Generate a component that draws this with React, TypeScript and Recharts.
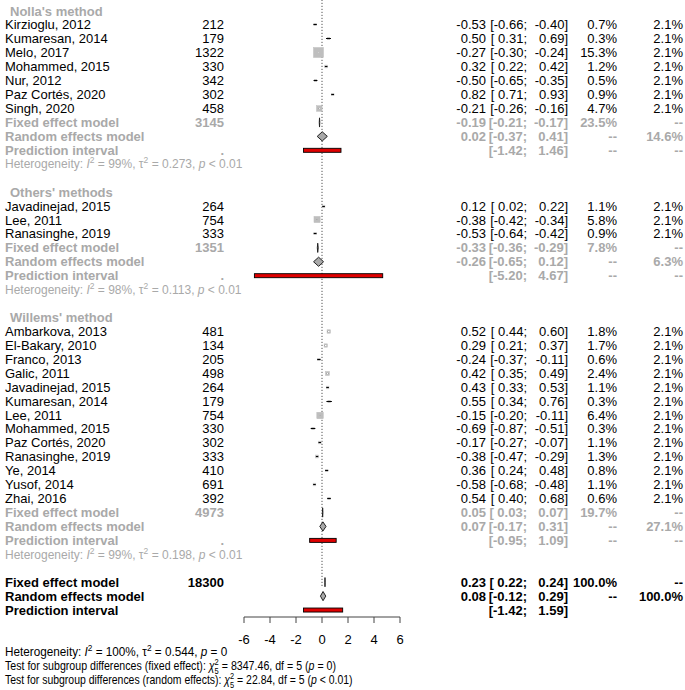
import React from 'react';
import { ComposedChart, Scatter, XAxis, YAxis, ReferenceLine } from 'recharts';

const FONT = '"Liberation Sans", Arial, Helvetica, sans-serif';
const GRAY = '#a9a9a9';
const SQUARE = '#bebebe';

// ---------- Subgroup titles ----------
const groupTitles = ["Nolla's method", "Others' methods", "Willems' method"];

// ---------- Nolla's method ----------
const nollaStudies = ['Kirzioglu, 2012', 'Kumaresan, 2014', 'Melo, 2017', 'Mohammed, 2015', 'Nur, 2012', 'Paz Cortés, 2020', 'Singh, 2020'];
const nollaN = [212, 179, 1322, 330, 342, 302, 458];
const nollaTE = [-0.53, 0.5, -0.27, 0.32, -0.5, 0.82, -0.21];
const nollaLower = [-0.66, 0.31, -0.3, 0.22, -0.65, 0.71, -0.26];
const nollaUpper = [-0.4, 0.69, -0.24, 0.42, -0.35, 0.93, -0.16];
const nollaWFixed = [0.7, 0.3, 15.3, 1.2, 0.5, 0.9, 4.7];
const nollaWRandom = [2.1, 2.1, 2.1, 2.1, 2.1, 2.1, 2.1];

// ---------- Others' methods ----------
const othersStudies = ['Javadinejad, 2015', 'Lee, 2011', 'Ranasinghe, 2019'];
const othersN = [264, 754, 333];
const othersTE = [0.12, -0.38, -0.53];
const othersLower = [0.02, -0.42, -0.64];
const othersUpper = [0.22, -0.34, -0.42];
const othersWFixed = [1.1, 5.8, 0.9];
const othersWRandom = [2.1, 2.1, 2.1];

// ---------- Willems' method ----------
const willemsStudies = ['Ambarkova, 2013', 'El-Bakary, 2010', 'Franco, 2013', 'Galic, 2011', 'Javadinejad, 2015', 'Kumaresan, 2014', 'Lee, 2011', 'Mohammed, 2015', 'Paz Cortés, 2020', 'Ranasinghe, 2019', 'Ye, 2014', 'Yusof, 2014', 'Zhai, 2016'];
const willemsN = [481, 134, 205, 498, 264, 179, 754, 330, 302, 333, 410, 691, 392];
const willemsTE = [0.52, 0.29, -0.24, 0.42, 0.43, 0.55, -0.15, -0.69, -0.17, -0.38, 0.36, -0.58, 0.54];
const willemsLower = [0.44, 0.21, -0.37, 0.35, 0.33, 0.34, -0.2, -0.87, -0.27, -0.47, 0.24, -0.68, 0.4];
const willemsUpper = [0.6, 0.37, -0.11, 0.49, 0.53, 0.76, -0.11, -0.51, -0.07, -0.29, 0.48, -0.48, 0.68];
const willemsWFixed = [1.8, 1.7, 0.6, 2.4, 1.1, 0.3, 6.4, 0.3, 1.1, 1.3, 0.8, 1.1, 0.6];
const willemsWRandom = [2.1, 2.1, 2.1, 2.1, 2.1, 2.1, 2.1, 2.1, 2.1, 2.1, 2.1, 2.1, 2.1];

// ---------- Subgroup summaries ----------
const subFixedN = [3145, 1351, 4973];
const subFixedTE = [-0.19, -0.33, 0.05];
const subFixedLower = [-0.21, -0.36, 0.03];
const subFixedUpper = [-0.17, -0.29, 0.07];
const subFixedW = [23.5, 7.8, 19.7];
const subRandomTE = [0.02, -0.26, 0.07];
const subRandomLower = [-0.37, -0.65, -0.17];
const subRandomUpper = [0.41, 0.12, 0.31];
const subRandomW = [14.6, 6.3, 27.1];
const subPredLower = [-1.42, -5.2, -0.95];
const subPredUpper = [1.46, 4.67, 1.09];
const subI2 = ['99%', '98%', '99%'];
const subTau2 = ['0.273', '0.113', '0.198'];
const subP = ['< 0.01', '< 0.01', '< 0.01'];

// ---------- Overall ----------
const overallFixedN = 18300;
const overallFixedEst = [0.23, 0.22, 0.24];
const overallRandomEst = [0.08, -0.12, 0.29];
const overallPred = [-1.42, 1.59];
const overallHet = ['100%', '0.544', '= 0'];
const testFixed = ['8347.46', '5', '= 0'];
const testRandom = ['22.84', '5', '< 0.01'];

const xTicks = [-6, -4, -2, 0, 2, 4, 6];

// ---------- build rows ----------
type Row = {
  x: number; y: number; kind: string; label?: string; n?: string;
  te?: number; lo?: number; hi?: number; wf?: number | null; wr?: number | null;
  color: string; bold: boolean; i2?: string; tau2?: string; p?: string;
};

const groups = [
  { s: nollaStudies, n: nollaN, te: nollaTE, lo: nollaLower, hi: nollaUpper, wf: nollaWFixed, wr: nollaWRandom },
  { s: othersStudies, n: othersN, te: othersTE, lo: othersLower, hi: othersUpper, wf: othersWFixed, wr: othersWRandom },
  { s: willemsStudies, n: willemsN, te: willemsTE, lo: willemsLower, hi: willemsUpper, wf: willemsWFixed, wr: willemsWRandom },
];

const rows: Row[] = [];
let idx = 0;
groups.forEach((g, gi) => {
  rows.push({ x: 0, y: idx++, kind: 'title', label: groupTitles[gi], color: GRAY, bold: true });
  g.s.forEach((name, k) => {
    rows.push({ x: 0, y: idx++, kind: 'study', label: name, n: String(g.n[k]), te: g.te[k], lo: g.lo[k], hi: g.hi[k], wf: g.wf[k], wr: g.wr[k], color: '#000', bold: false });
  });
  rows.push({ x: 0, y: idx++, kind: 'fixed', label: 'Fixed effect model', n: String(subFixedN[gi]), te: subFixedTE[gi], lo: subFixedLower[gi], hi: subFixedUpper[gi], wf: subFixedW[gi], wr: null, color: GRAY, bold: true });
  rows.push({ x: 0, y: idx++, kind: 'random', label: 'Random effects model', te: subRandomTE[gi], lo: subRandomLower[gi], hi: subRandomUpper[gi], wf: null, wr: subRandomW[gi], color: GRAY, bold: true });
  rows.push({ x: 0, y: idx++, kind: 'pred', label: 'Prediction interval', n: '.', lo: subPredLower[gi], hi: subPredUpper[gi], wf: null, wr: null, color: GRAY, bold: true });
  rows.push({ x: 0, y: idx++, kind: 'het', i2: subI2[gi], tau2: subTau2[gi], p: subP[gi], color: GRAY, bold: false });
  idx++;
});
rows.push({ x: 0, y: idx++, kind: 'fixed', label: 'Fixed effect model', n: String(overallFixedN), te: overallFixedEst[0], lo: overallFixedEst[1], hi: overallFixedEst[2], wf: 100, wr: null, color: '#000', bold: true });
rows.push({ x: 0, y: idx++, kind: 'random', label: 'Random effects model', te: overallRandomEst[0], lo: overallRandomEst[1], hi: overallRandomEst[2], wf: null, wr: 100, color: '#000', bold: true });
rows.push({ x: 0, y: idx++, kind: 'predOverall', label: 'Prediction interval', lo: overallPred[0], hi: overallPred[1], color: '#000', bold: true });
const lastRow = idx - 1;

const fmt = (v: number) => v.toFixed(2);
const fmtW = (v: number | null | undefined) => (v === null || v === undefined ? '--' : v.toFixed(1) + '%');

// ---------- text renderer ----------
const COLS = { label: 5, title: 10, n: 224, te: 486, ciL: 527, ciR: 568, wf: 617, wr: 683 };

const HetText = ({ x, y, color, i2, tau2, p }: any) => (
  <text x={x} y={y} dy="0.35em" fontFamily={FONT} fill={color} fontSize={12} style={{ whiteSpace: 'pre' }}>
    {'Heterogeneity: '}
    <tspan fontStyle="italic">I</tspan>
    <tspan dy={-5} fontSize={8.5}>2</tspan>
    <tspan dy={5}>{' = ' + i2 + ', \u03c4'}</tspan>
    <tspan dy={-5} fontSize={8.5}>2</tspan>
    <tspan dy={5}>{' = ' + tau2 + ', '}</tspan>
    <tspan fontStyle="italic">p</tspan>
    <tspan>{' ' + p}</tspan>
  </text>
);

const TestText = ({ label, chi, df, p }: any) => (
  <text x={0} y={0} dy="0.35em" fontFamily={FONT} fill="#000" fontSize={12} style={{ whiteSpace: 'pre' }}>
    {label}
    <tspan fontStyle="italic">{'\u03c7'}</tspan>
    <tspan dy={-5} fontSize={8.5}>2</tspan>
    <tspan dx={-4.7} dy={8.5} fontSize={8.5}>{df}</tspan>
    <tspan dy={-3.5}>{' = ' + chi + ', df = ' + df + ' ('}</tspan>
    <tspan fontStyle="italic">p</tspan>
    <tspan>{' ' + p + ')'}</tspan>
  </text>
);

const RowText = (props: any) => {
  const { cy, payload } = props;
  const r: Row = payload;
  if (cy === undefined || r === undefined) return <g />;
  if (r.kind === 'het') {
    return <HetText x={COLS.label} y={cy} color={r.color} i2={r.i2} tau2={r.tau2} p={r.p} />;
  }
  const t = { fontFamily: FONT, fill: r.color, dy: '0.35em', fontSize: 13, fontWeight: r.bold ? 'bold' : 'normal' } as any;
  const showW = r.kind !== 'predOverall' && r.kind !== 'title';
  return (
    <g>
      {r.label && <text x={r.kind === 'title' ? COLS.title : COLS.label} y={cy} {...t}>{r.label}</text>}
      {r.n !== undefined && <text x={COLS.n} y={cy} textAnchor="end" {...t}>{r.n}</text>}
      {r.te !== undefined && <text x={COLS.te} y={cy} textAnchor="end" {...t}>{fmt(r.te)}</text>}
      {r.lo !== undefined && (
        <text x={COLS.ciL} y={cy} textAnchor="end" {...t} style={{ whiteSpace: 'pre' }}>{'[' + (r.lo >= 0 ? ' ' : '') + fmt(r.lo as number) + ';'}</text>
      )}
      {r.hi !== undefined && <text x={COLS.ciR} y={cy} textAnchor="end" {...t}>{fmt(r.hi as number) + ']'}</text>}
      {showW && <text x={COLS.wf} y={cy} textAnchor="end" {...t}>{fmtW(r.wf)}</text>}
      {showW && <text x={COLS.wr} y={cy} textAnchor="end" {...t}>{fmtW(r.wr)}</text>}
    </g>
  );
};

// ---------- mark shapes (drawn on ReferenceLine segments lower..upper) ----------
const snap = (v: number) => Math.round(v - 0.5) + 0.5;

const StudyMark = (te: number, lo: number, hi: number, w: number) => (p: any) => {
  const { x1, x2 } = p;
  if (x1 === undefined) return <g />;
  const y = snap(p.y1);
  const cx = hi === lo ? x1 : x1 + ((te - lo) / (hi - lo)) * (x2 - x1);
  const s = Math.max(2.5, 10 * Math.sqrt(w / 15.3));
  const inL = Math.max(x1, cx - s / 2);
  const inR = Math.min(x2, cx + s / 2);
  return (
    <g>
      <rect x={cx - s / 2} y={y - s / 2} width={s} height={s} fill={SQUARE} stroke={SQUARE} strokeWidth={0.5} />
      <line x1={x1} x2={x2} y1={y} y2={y} stroke="#000" strokeWidth={1} />
      {inR > inL && s > 3 && <line x1={inL} x2={inR} y1={y} y2={y} stroke="#fff" strokeWidth={1} />}
    </g>
  );
};

const DiamondMark = (te: number, lo: number, hi: number) => (p: any) => {
  const { x1, x2 } = p;
  if (x1 === undefined) return <g />;
  const y = p.y1;
  const cx = x1 + ((te - lo) / (hi - lo)) * (x2 - x1);
  const h = 4.6;
  return (
    <polygon
      points={`${x1},${y} ${cx},${y - h} ${x2},${y} ${cx},${y + h}`}
      fill="#a9a9a9"
      stroke="#222"
      strokeWidth={1}
    />
  );
};

const PredMark = (p: any) => {
  const { x1, x2, y1 } = p;
  if (x1 === undefined) return <g />;
  return <rect x={x1} y={y1 - 2} width={x2 - x1} height={4} fill="#e00000" stroke="#000" strokeWidth={0.9} />;
};

export default function App() {
  const marks: React.ReactNode[] = [];
  rows.forEach((r, k) => {
    if (r.lo === undefined || r.hi === undefined) return;
    const seg = [{ x: r.lo, y: r.y }, { x: r.hi, y: r.y }];
    let shape: any;
    if (r.kind === 'study') shape = StudyMark(r.te as number, r.lo, r.hi, r.wf as number);
    else if (r.kind === 'fixed' || r.kind === 'random') shape = DiamondMark(r.te as number, r.lo, r.hi);
    else shape = PredMark;
    marks.push(<ReferenceLine key={'m' + k} segment={seg as any} ifOverflow="visible" shape={shape} />);
  });

  return (
    <div style={{ position: 'absolute', left: 0, top: 0, width: 685, height: 690, background: '#fff' }}>
      <ComposedChart width={685} height={690} margin={{ top: 11, right: 285, bottom: 43, left: 244 }}>
        <XAxis
          type="number"
          dataKey="x"
          domain={[-6, 6]}
          ticks={xTicks}
          interval={0}
          axisLine={{ stroke: '#444', strokeWidth: 1 }}
          tickLine={{ stroke: '#444', strokeWidth: 1 }}
          tickSize={6}
          tickMargin={12}
          height={30}
          tick={{ fontSize: 13, fill: '#000', fontFamily: FONT }}
        />
        <YAxis type="number" dataKey="y" domain={[0, 43.5]} reversed hide />
        <ReferenceLine
          segment={[{ x: 0, y: -0.8 }, { x: 0, y: lastRow - 1.6 }] as any}
          ifOverflow="visible"
          stroke="#333"
          strokeDasharray="1 2"
        />
        {marks}
        <Scatter data={rows} isAnimationActive={false} shape={RowText} />
      </ComposedChart>
      <svg width={685} height={690} style={{ position: 'absolute', left: 0, top: 0, pointerEvents: 'none' }}>
        <g transform="translate(5,652) scale(0.978,1)">
          <HetText x={0} y={0} color="#000" i2={overallHet[0]} tau2={overallHet[1]} p={overallHet[2]} />
        </g>
        <g transform="translate(5,666) scale(0.885,1)">
          <TestText label="Test for subgroup differences (fixed effect): " chi={testFixed[0]} df={testFixed[1]} p={testFixed[2]} />
        </g>
        <g transform="translate(5,680) scale(0.872,1)">
          <TestText label="Test for subgroup differences (random effects): " chi={testRandom[0]} df={testRandom[1]} p={testRandom[2]} />
        </g>
      </svg>
    </div>
  );
}
